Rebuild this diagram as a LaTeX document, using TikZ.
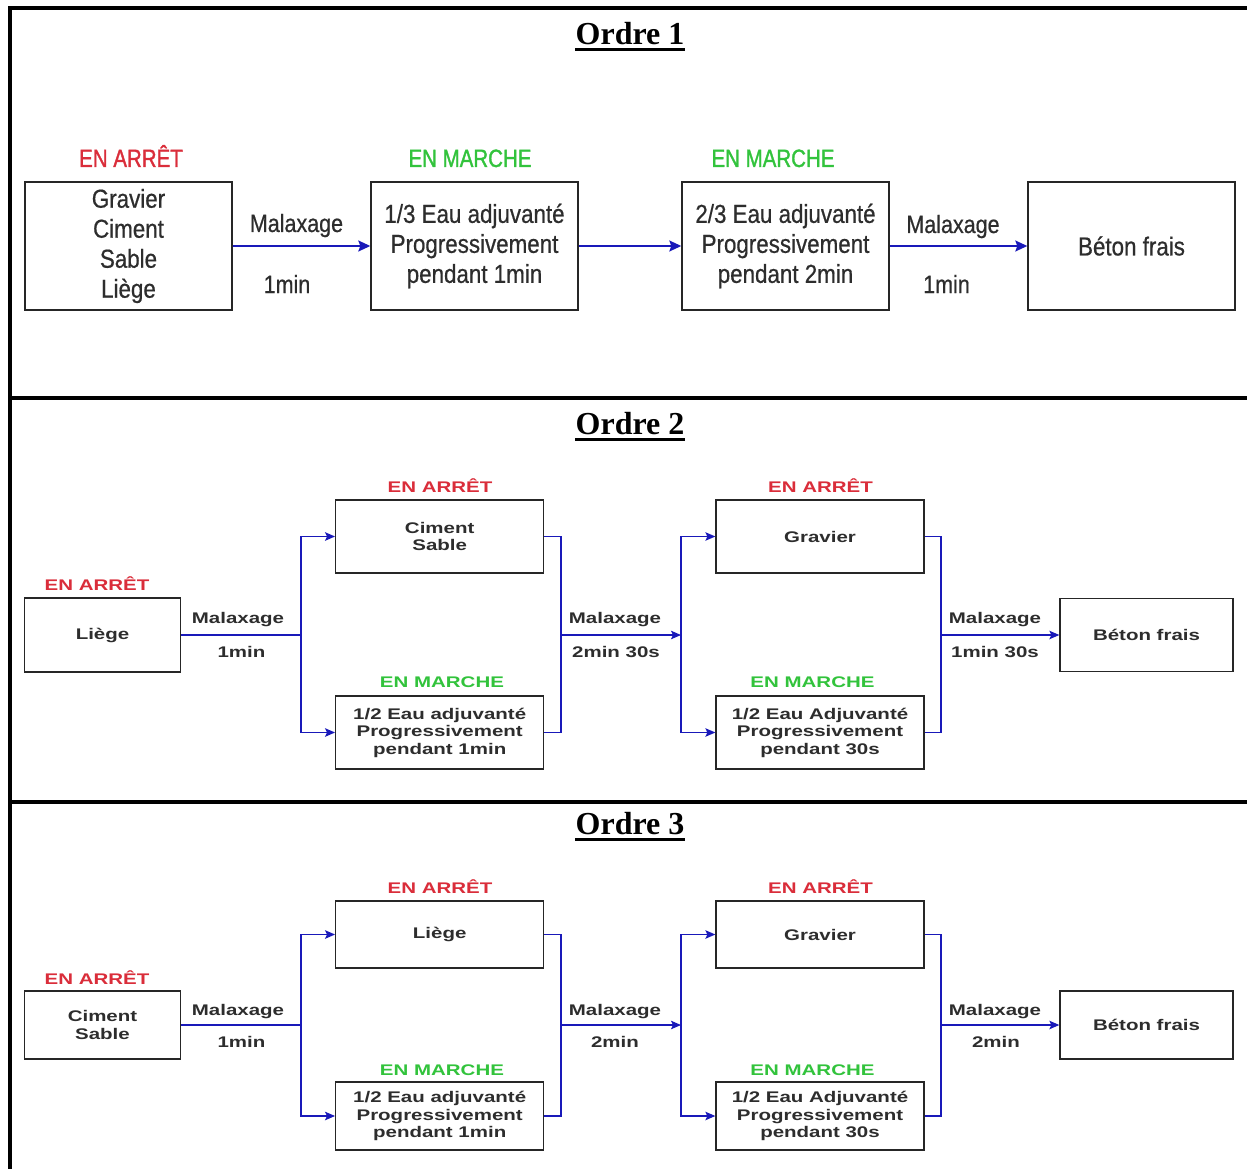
\documentclass[tikz,border=0pt]{standalone}
\usepackage{fontspec}
\setmainfont{Liberation Sans}
\newfontfamily\fna{Liberation Sans}[FakeStretch=0.86, FakeBold=0.6]
\newfontfamily\fnb{Liberation Sans}[FakeStretch=0.82, FakeBold=1.3]
\newfontfamily\fw{Liberation Sans}[FakeStretch=1.33]
\newfontfamily\ftitle{Liberation Serif}
\usetikzlibrary{arrows.meta}
\definecolor{stopred}{RGB}{218,45,58}
\definecolor{rungreen}{RGB}{50,195,60}
\definecolor{arrowblue}{RGB}{25,25,185}
\definecolor{txt}{RGB}{45,45,45}
\begin{document}
\begin{tikzpicture}[x=1pt,y=-1pt,
  frame/.style={line width=4pt, line cap=rect},
  title/.style={anchor=base, inner sep=0pt, font=\ftitle\bfseries\fontsize{32}{36}\selectfont},
  bigbox/.style={draw=black!85, line width=1.4pt, minimum width=207pt, minimum height=128pt, inner sep=0pt, align=center, text=txt, font=\fna\fontsize{26}{30}\selectfont},
  bigstat/.style={anchor=base, inner sep=0pt, font=\fnb\fontsize{25}{30}\selectfont},
  biglbl/.style={anchor=base, inner sep=0pt, text=txt, font=\fna\fontsize{25}{30}\selectfont},
  bigarr/.style={draw=arrowblue, line width=1.6pt, -{Stealth[length=12pt,width=11pt,inset=2pt]}},
  smbox/.style={draw=black!85, line width=1.3pt, minimum width=208pt, inner sep=0pt, align=center, text=txt, font=\fw\bfseries\fontsize{15.4}{17.5}\selectfont},
  smstat/.style={anchor=base, inner sep=0pt, font=\fw\bfseries\fontsize{15.4}{18}\selectfont},
  smlbl/.style={anchor=base, inner sep=0pt, text=txt, font=\fw\bfseries\fontsize{15.4}{18}\selectfont},
  wire/.style={draw=arrowblue, line width=1.3pt},
  smarr/.style={wire, -{Stealth[length=10pt,width=8.5pt,inset=2pt]}}
]
\useasboundingbox (0,0) rectangle (1247,1169);
\fill[white] (0,0) rectangle (1247,1169);
% frame
\draw[frame] (10,8) -- (1247,8);
\draw[frame] (10,8) -- (10,1169);
\draw[frame] (10,398) -- (1247,398);
\draw[frame] (10,802) -- (1247,802);
% titles
\node[title] (o1) at (630,44.5) {Ordre 1};
\node[title] (o2) at (630,434.5) {Ordre 2};
\node[title] (o3) at (630,834.5) {Ordre 3};
\foreach \t in {o1,o2,o3}
  \draw[line width=2.3pt] ([yshift=-5pt]\t.base west) -- ([yshift=-5pt]\t.base east);

% ---------- Ordre 1 ----------
\node[bigbox] (a1) at (128.5,246) {Gravier\\Ciment\\Sable\\Liège};
\node[bigbox] (b1) at (474.5,246) {1/3 Eau adjuvanté\\Progressivement\\pendant 1min};
\node[bigbox] (c1) at (785.5,246) {2/3 Eau adjuvanté\\Progressivement\\pendant 2min};
\node[bigbox] (d1) at (1131.5,246) {Béton frais};
\node[bigstat, text=stopred] (sa1) at (131,167) {EN ARRÊT};
\node[bigstat, text=rungreen] (sb1) at (470,167) {EN MARCHE};
\node[bigstat, text=rungreen] (sc1) at (773,167) {EN MARCHE};
\draw[bigarr] (a1) -- (b1);
\draw[bigarr] (b1) -- (c1);
\draw[bigarr] (c1) -- (d1);
\node[biglbl] (m11) at (296.5,232) {Malaxage};
\node[biglbl] (t11) at (287,293) {1min};
\node[biglbl] (m12) at (953,233) {Malaxage};
\node[biglbl] (t12) at (946.5,293) {1min};

% ---------- Ordre 2 ----------
\node[smstat, text=stopred] (s20) at (97,590) {EN ARRÊT};
\node[smbox, minimum width=156pt, minimum height=74pt] (l2) at (102.5,635) {Liège};
\node[smbox, minimum height=73pt] (p2) at (439.7,536.5) {Ciment\\Sable};
\node[smbox, minimum height=73pt] (q2) at (439.7,732.5) {1/2 Eau adjuvanté\\Progressivement\\pendant 1min};
\node[smbox, minimum height=73pt] (r2) at (820,536.5) {Gravier};
\node[smbox, minimum height=73pt] (s2) at (820,732.5) {1/2 Eau Adjuvanté\\Progressivement\\pendant 30s};
\node[smbox, minimum width=173pt, minimum height=73pt] (e2) at (1146.5,635) {Béton frais};
\node[smstat, text=stopred] (sp2) at (440,492) {EN ARRÊT};
\node[smstat, text=rungreen] (sq2) at (442,687.7) {EN MARCHE};
\node[smstat, text=stopred] (sr2) at (820.5,492) {EN ARRÊT};
\node[smstat, text=rungreen] (ss2) at (812.5,687.7) {EN MARCHE};
\coordinate (j21) at (301,635);
\coordinate (j22) at (561,635);
\coordinate (j23) at (681,635);
\coordinate (j24) at (941,635);
\draw[wire] (l2.east) -- (j21);
\draw[smarr] (j21) |- (p2.west);
\draw[smarr] (j21) |- (q2.west);
\draw[wire] (p2.east) -| (j22);
\draw[wire] (q2.east) -| (j22);
\draw[smarr] (j22) -- (j23);
\draw[smarr] (j23) |- (r2.west);
\draw[smarr] (j23) |- (s2.west);
\draw[wire] (r2.east) -| (j24);
\draw[wire] (s2.east) -| (j24);
\draw[smarr] (j24) -- (e2.west);
\node[smlbl] (m21) at (238,623) {Malaxage};
\node[smlbl] (t21) at (241.5,657) {1min};
\node[smlbl] (m22) at (615,623) {Malaxage};
\node[smlbl] (t22) at (616,657) {2min 30s};
\node[smlbl] (m23) at (995,623) {Malaxage};
\node[smlbl] (t23) at (995,657) {1min 30s};

% ---------- Ordre 3 ----------
\node[smstat, text=stopred] (s30) at (97,984) {EN ARRÊT};
\node[smbox, minimum width=156pt, minimum height=68pt] (l3) at (102.5,1025) {Ciment\\Sable};
\node[smbox, minimum height=67pt] (p3) at (439.7,934.5) {Liège};
\node[smbox, minimum height=68pt] (q3) at (439.7,1116) {1/2 Eau adjuvanté\\Progressivement\\pendant 1min};
\node[smbox, minimum height=67pt] (r3) at (820,934.5) {Gravier};
\node[smbox, minimum height=68pt] (s3) at (820,1116) {1/2 Eau Adjuvanté\\Progressivement\\pendant 30s};
\node[smbox, minimum width=173pt, minimum height=68pt] (e3) at (1146.5,1025) {Béton frais};
\node[smstat, text=stopred] (sp3) at (440,893) {EN ARRÊT};
\node[smstat, text=rungreen] (sq3) at (442,1075) {EN MARCHE};
\node[smstat, text=stopred] (sr3) at (820.5,893) {EN ARRÊT};
\node[smstat, text=rungreen] (ss3) at (812.5,1075) {EN MARCHE};
\coordinate (j31) at (301,1025);
\coordinate (j32) at (561,1025);
\coordinate (j33) at (681,1025);
\coordinate (j34) at (941,1025);
\draw[wire] (l3.east) -- (j31);
\draw[smarr] (j31) |- (p3.west);
\draw[smarr] (j31) |- (q3.west);
\draw[wire] (p3.east) -| (j32);
\draw[wire] (q3.east) -| (j32);
\draw[smarr] (j32) -- (j33);
\draw[smarr] (j33) |- (r3.west);
\draw[smarr] (j33) |- (s3.west);
\draw[wire] (r3.east) -| (j34);
\draw[wire] (s3.east) -| (j34);
\draw[smarr] (j34) -- (e3.west);
\node[smlbl] (m31) at (238,1015) {Malaxage};
\node[smlbl] (t31) at (241.5,1047) {1min};
\node[smlbl] (m32) at (615,1015) {Malaxage};
\node[smlbl] (t32) at (615,1047) {2min};
\node[smlbl] (m33) at (995,1015) {Malaxage};
\node[smlbl] (t33) at (996,1047) {2min};
\end{tikzpicture}
\end{document}
